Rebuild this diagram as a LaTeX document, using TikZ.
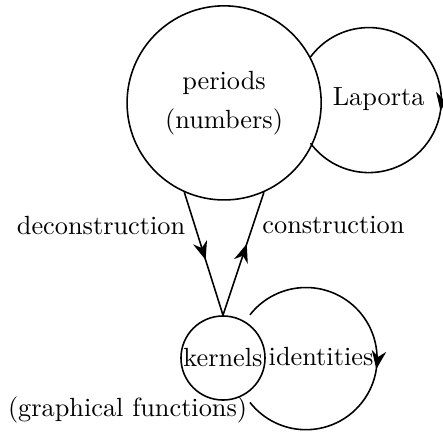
\documentclass[tikz,border=0pt]{standalone}
\usetikzlibrary{positioning, calc, arrows.meta, decorations.markings}
\tikzset{
  bubble/.style={circle, draw, line width=0.6pt, inner sep=0pt},
  flow/.style={line width=0.6pt,
    decoration={markings, mark=at position #1 with {\arrow{Stealth[length=7pt,width=5.5pt]}}},
    postaction={decorate}},
}

\begin{document}
\begin{tikzpicture}
\useasboundingbox (0,0) rectangle (5.92,5.76);
\node[bubble, minimum size=2.594cm, align=center] (periods) at (2.995,4.385) {periods\\[3pt](numbers)};
\node[bubble, minimum size=1.123cm] (kernels) at (2.98,0.976) {kernels};
\draw[flow=0.55] (periods.246) -- node[left, pos=0.27] (decon) {deconstruction} (kernels.north);
\draw[flow=0.58] (kernels.north) -- node[right, pos=0.73] (con) {construction} (periods.294);
% self loops
\draw[flow=0.53] (periods.28) arc[start angle=143.5, end angle=-143.5, radius=0.969];
\node (laporta) at (5.06,4.43) {Laporta};
\draw[flow=0.53] ($(kernels.center)+(58:0.68)$) arc[start angle=142, end angle=-142, radius=0.95];
\node (ident) at (4.29,0.99) {identities};
\node (graph) at (1.705,0.281) {(graphical functions)};
\end{tikzpicture}
\end{document}
